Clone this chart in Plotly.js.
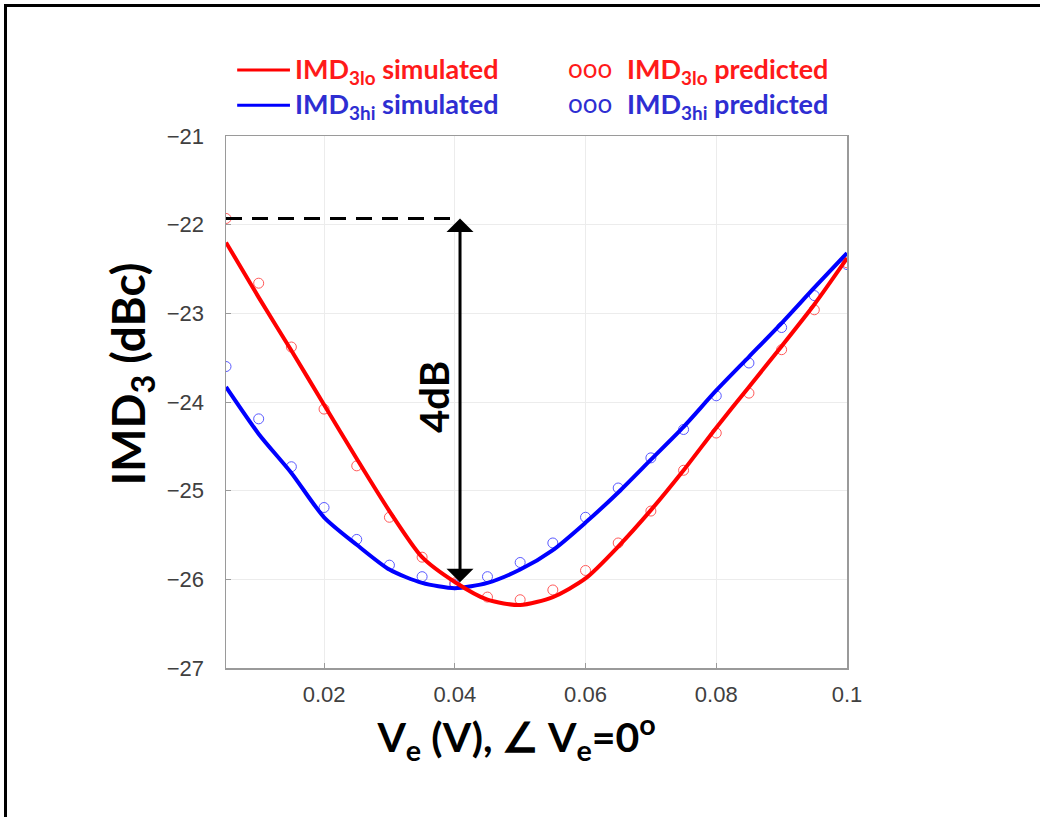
<!DOCTYPE html>
<html>
<head>
<meta charset="utf-8">
<script src="https://cdn.plot.ly/plotly-3.0.1.min.js"></script>
<style>
  html, body { margin: 0; padding: 0; background: #fff; }
  #wrap { position: relative; width: 1040px; height: 817px; overflow: hidden; }
  #chart { position: absolute; left: 0; top: 0; width: 1040px; height: 817px; }
  #frame { position: absolute; left: 4px; top: 4px; width: 1040px; height: 820px;
           border-left: 3px solid #000; border-top: 3px solid #000; pointer-events: none; }
</style>
</head>
<body>
<div id="wrap">
  <div id="chart"></div>
  <div id="frame"></div>
</div>
<script>
// ---- data ----
const ve = [0.005, 0.010, 0.015, 0.020, 0.025, 0.030, 0.035, 0.040, 0.045, 0.050,
            0.055, 0.060, 0.065, 0.070, 0.075, 0.080, 0.085, 0.090, 0.095, 0.100];

const imdLoSimulated = [-22.20, -22.82, -23.42, -24.03, -24.64, -25.23, -25.75, -26.03, -26.23, -26.29,
                        -26.20, -25.99, -25.63, -25.22, -24.77, -24.29, -23.83, -23.37, -22.90, -22.38];
const imdHiSimulated = [-23.83, -24.36, -24.80, -25.30, -25.61, -25.89, -26.04, -26.10, -26.04, -25.89,
                        -25.67, -25.36, -25.02, -24.65, -24.28, -23.87, -23.49, -23.11, -22.71, -22.32];
const imdLoPredicted = [-21.93, -22.66, -23.38, -24.08, -24.72, -25.30, -25.75, -26.04, -26.20, -26.23,
                        -26.12, -25.90, -25.59, -25.23, -24.77, -24.35, -23.90, -23.41, -22.96, -22.43];
const imdHiPredicted = [-23.60, -24.19, -24.73, -25.19, -25.55, -25.84, -25.97, -26.06, -25.97, -25.81,
                        -25.59, -25.30, -24.97, -24.63, -24.31, -23.93, -23.56, -23.16, -22.80, -22.45];

const xTickVals = [0.02, 0.04, 0.06, 0.08, 0.1];
const xTickText = ['0.02', '0.04', '0.06', '0.08', '0.1'];
const yTickVals = [-27, -26, -25, -24, -23, -22, -21];

// annotation anchors (data units)
const markerTopValue = imdLoPredicted[0];   // dashed reference level
const arrowX = 0.0408;
const arrowBottomValue = -26.05;
const labelX = 0.0367;
const labelY = -23.94;

const RED = '#ff0000', BLUE = '#0000ff';
const FONT = 'Lato, "Open Sans", sans-serif';

const traces = [
  { x: ve, y: imdLoPredicted, type: 'scatter', mode: 'markers', name: 'IMD3lo predicted',
    marker: { symbol: 'circle-open', size: 10, color: '#ff5a5a', line: { width: 1, color: '#ff5a5a' } } },
  { x: ve, y: imdHiPredicted, type: 'scatter', mode: 'markers', name: 'IMD3hi predicted',
    marker: { symbol: 'circle-open', size: 10, color: '#5a5aff', line: { width: 1, color: '#5a5aff' } } },
  { x: ve, y: imdHiSimulated, type: 'scatter', mode: 'lines', name: 'IMD3hi simulated',
    line: { color: BLUE, width: 4, shape: 'spline', smoothing: 0.7 } },
  { x: ve, y: imdLoSimulated, type: 'scatter', mode: 'lines', name: 'IMD3lo simulated',
    line: { color: RED, width: 4, shape: 'spline', smoothing: 0.7 } }
];

const legendFont = { family: FONT, size: 27, color: '#000' };
const redTxt = '#ff1a1a', blueTxt = '#2e2ed2';

const annotations = [
  { x: labelX, y: labelY, xref: 'x', yref: 'y', text: '<b>4dB</b>', showarrow: false,
    textangle: -90, font: { family: FONT, size: 40, color: '#000' } },
  { x: arrowX, y: markerTopValue, ax: arrowX, ay: arrowBottomValue, xref: 'x', yref: 'y',
    axref: 'x', ayref: 'y', text: '', showarrow: true, arrowhead: 1, arrowsize: 1.5,
    arrowwidth: 3, arrowcolor: '#000', arrowside: 'end+start', standoff: 0, startstandoff: 0 },
  { xref: 'paper', yref: 'paper', x: 0.108, y: 1.124, xanchor: 'left', yanchor: 'middle', showarrow: false,
    text: '<b>IMD<sub>3lo</sub> simulated</b>', font: Object.assign({}, legendFont, { color: redTxt }) },
  { xref: 'paper', yref: 'paper', x: 0.108, y: 1.058, xanchor: 'left', yanchor: 'middle', showarrow: false,
    text: '<b>IMD<sub>3hi</sub> simulated</b>', font: Object.assign({}, legendFont, { color: blueTxt }) },
  { xref: 'paper', yref: 'paper', x: 0.547, y: 1.128, xanchor: 'left', yanchor: 'middle', showarrow: false,
    text: 'ooo', font: { family: FONT, size: 26, color: redTxt } },
  { xref: 'paper', yref: 'paper', x: 0.547, y: 1.062, xanchor: 'left', yanchor: 'middle', showarrow: false,
    text: 'ooo', font: { family: FONT, size: 26, color: blueTxt } },
  { xref: 'paper', yref: 'paper', x: 0.643, y: 1.124, xanchor: 'left', yanchor: 'middle', showarrow: false,
    text: '<b>IMD<sub>3lo</sub> predicted</b>', font: Object.assign({}, legendFont, { color: redTxt }) },
  { xref: 'paper', yref: 'paper', x: 0.643, y: 1.058, xanchor: 'left', yanchor: 'middle', showarrow: false,
    text: '<b>IMD<sub>3hi</sub> predicted</b>', font: Object.assign({}, legendFont, { color: blueTxt }) }
];

const shapes = [
  { type: 'line', xref: 'x', yref: 'y', x0: ve[0], x1: arrowX, y0: markerTopValue, y1: markerTopValue,
    line: { color: '#000', width: 3, dash: '16px,10px' } },
  { type: 'line', xref: 'paper', yref: 'paper', x0: 0.018, x1: 0.103, y0: 1.124, y1: 1.124,
    line: { color: RED, width: 3 } },
  { type: 'line', xref: 'paper', yref: 'paper', x0: 0.018, x1: 0.103, y0: 1.058, y1: 1.058,
    line: { color: BLUE, width: 3 } }
];

const axisCommon = {
  showline: true, linecolor: '#9a9a9a', linewidth: 1.5, mirror: true,
  ticks: 'inside', ticklen: 5, tickcolor: '#9a9a9a', tickwidth: 1,
  showgrid: true, gridcolor: '#ececec', gridwidth: 1, zeroline: false,
  tickfont: { family: '"Liberation Sans", Arial, sans-serif', size: 22, color: '#404040' }
};

const layout = {
  width: 1040, height: 817,
  margin: { l: 226, r: 193, t: 136, b: 149 },
  paper_bgcolor: '#fff', plot_bgcolor: '#fff',
  showlegend: false,
  xaxis: Object.assign({}, axisCommon, {
    range: [0.005, 0.1], tickmode: 'array', tickvals: xTickVals, ticktext: xTickText,
    ticklabelstandoff: 6,
    title: { text: '<b>V<sub>e</sub> (V), ∠ V<sub>e</sub>=0<sup>o</sup>&nbsp;&nbsp;&nbsp;&nbsp;</b>', standoff: 12,
             font: { family: FONT, size: 41, color: '#000' } }
  }),
  yaxis: Object.assign({}, axisCommon, {
    range: [-27, -21], tickmode: 'array', tickvals: yTickVals,
    ticklabelstandoff: 16,
    title: { text: '<b>&nbsp;&nbsp;&nbsp;&nbsp;&nbsp;IMD<sub>3</sub> (dBc)</b>', standoff: 6,
             font: { family: FONT, size: 46, color: '#000' } }
  }),
  annotations: annotations,
  shapes: shapes
};

Plotly.newPlot('chart', traces, layout, { displayModeBar: false, staticPlot: true });
</script>
</body>
</html>
